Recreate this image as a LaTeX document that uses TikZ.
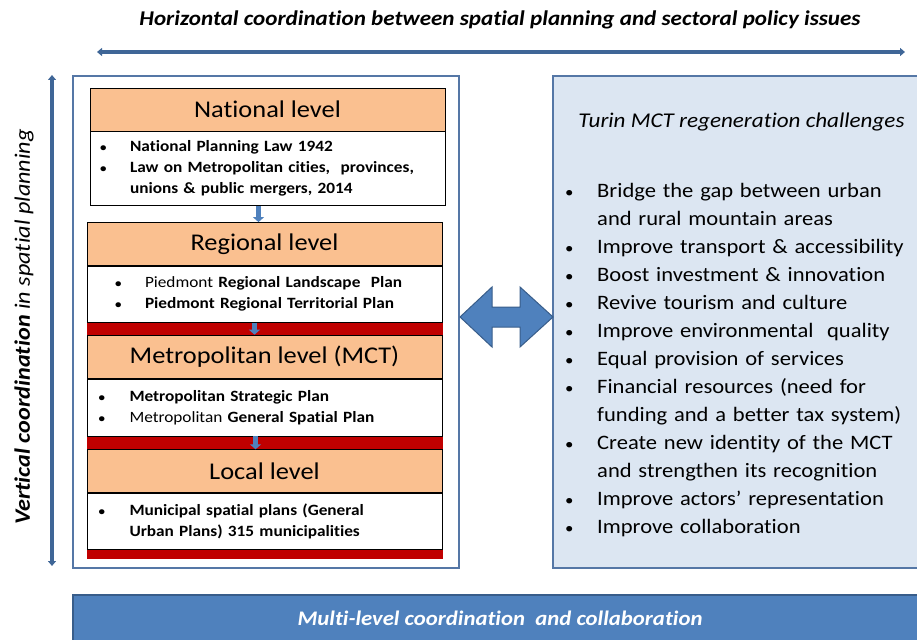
\documentclass[tikz,border=0pt]{standalone}
\usepackage{fontspec}
\setmainfont{Carlito}[FakeStretch=1.1,Ligatures=NoCommon]
\usetikzlibrary{positioning,arrows.meta,calc}

\definecolor{peach}{HTML}{FAC090}
\definecolor{bandred}{HTML}{C00000}
\definecolor{arrowblue}{HTML}{4F81BD}
\definecolor{arrowedge}{HTML}{385D8A}
\definecolor{lineblue}{HTML}{3F6697}
\definecolor{frameblue}{HTML}{5577A6}
\definecolor{panelfill}{HTML}{DCE6F2}

\newcommand{\itm}[1][30pt]{\makebox[#1][l]{\scalebox{0.75}{\textbullet}}}

\begin{document}
\begin{tikzpicture}[x=1pt,y=-1pt,
  levelhead/.style={draw=black,line width=0.8pt,fill=peach,minimum width=355pt,minimum height=43pt,inner sep=0pt,font=\fontsize{24}{28}\selectfont},
  levelbody/.style={draw=black,line width=0.8pt,fill=white,minimum width=355pt,inner xsep=0pt,text width=#1,align=left,font=\fontsize{15.7}{21}\selectfont\bfseries},
  smallarrow/.style={arrowblue,line width=5pt,-{Triangle[width=11pt,length=5pt]}},
  longarrow/.style={lineblue,line width=3.5pt,{Triangle[width=8pt,length=5pt]}-{Triangle[width=8pt,length=5pt]}},
  banner/.style={font=\fontsize{21}{25}\selectfont\bfseries\itshape}]
\useasboundingbox (0,0) rectangle (917,639);

% coordination arrows
\node[banner] (htitle) at (500,20) {Horizontal coordination between spatial planning and sectoral policy issues};
\coordinate (hl) at (97,52);
\coordinate (hr) at (905,52);
\draw[longarrow] (hl) -- (hr);
\node[font=\fontsize{22}{26}\selectfont\itshape, rotate=90] (vtitle) at (24,327) {\textbf{Vertical coordination} in spatial planning};
\coordinate (vt) at (52,75);
\coordinate (vb) at (52,566);
\draw[longarrow] (vt) -- (vb);

% planning levels
\node[draw=frameblue,line width=2pt,fill=white,minimum width=386pt,minimum height=492pt,inner sep=0pt] (levels) at (266,322) {};
\fill[bandred] (87,321) rectangle (443,559);

\node[levelhead] (nathead) at (267.5,109.5) {National level};
\node[levelbody=335pt,minimum height=74pt] (natbody) [below=0pt of nathead]
  {\itm National Planning Law 1942\\
   \itm Law on Metropolitan cities,~ provinces,\\
   \hspace*{30pt}unions \& public mergers, 2014};

\node[levelhead] (reghead) at (264.5,244) {Regional level};
\node[levelbody=299pt,minimum height=56pt] (regbody) [below=0pt of reghead]
  {\itm{\mdseries Piedmont} Regional Landscape~ Plan\\
   \itm Piedmont Regional Territorial Plan};

\node[levelhead] (methead) [below=12pt of regbody] {Metropolitan level (MCT)};
\node[levelbody=332pt,minimum height=57pt] (metbody) [below=0pt of methead]
  {\itm[31pt]Metropolitan Strategic Plan\\
   \itm[31pt]{\mdseries Metropolitan} General Spatial Plan};

\node[levelhead] (lochead) [below=13pt of metbody] {Local level};
\node[levelbody=332pt,minimum height=56pt] (locbody) [below=0pt of lochead]
  {\itm[31pt]Municipal spatial plans (General\\
   \hspace*{31pt}Urban Plans) 315 municipalities};

\draw[smallarrow] ([xshift=-9pt]natbody.south) -- ([xshift=-9pt]natbody.south |- reghead.north);
\draw[smallarrow] ([xshift=-10pt]regbody.south) -- ([xshift=-10pt]regbody.south |- methead.north);
\draw[smallarrow] ([xshift=-9pt]metbody.south) -- ([xshift=-9pt]metbody.south |- lochead.north);

% challenges
\node[draw=frameblue,line width=2pt,fill=panelfill,minimum width=377pt,minimum height=492pt,inner sep=0pt] (challenges) at (741.5,322) {};
\node[font=\fontsize{21}{25}\selectfont\itshape] (chtitle) [below=34pt of challenges.north] {Turin MCT regeneration challenges};
\node[anchor=base west,inner sep=0pt,text width=350pt,align=left,font=\fontsize{20.5}{28}\selectfont] (chlist) at (565,197)
  {\itm[32pt]Bridge the gap between urban\\
   \hspace*{32pt}and rural mountain areas\\
   \itm[32pt]Improve transport \& accessibility\\
   \itm[32pt]Boost investment \& innovation\\
   \itm[32pt]Revive tourism and culture\\
   \itm[32pt]Improve environmental~ quality\\
   \itm[32pt]Equal provision of services\\
   \itm[32pt]Financial resources (need for\\
   \hspace*{32pt}funding and a better tax system)\\
   \itm[32pt]Create new identity of the MCT\\
   \hspace*{32pt}and strengthen its recognition\\
   \itm[32pt]Improve actors’ representation\\
   \itm[32pt]Improve collaboration};

% two-way link
\coordinate (link) at (506.5,317);
\draw[fill=arrowblue,draw=arrowedge,line width=1pt]
  ($(link)+(-46.5,0)$) -- ++(32,-30) -- ++(0,20) -- ++(28,0) -- ++(0,-20) -- ++(33,30)
  -- ++(-33,30) -- ++(0,-20) -- ++(-28,0) -- ++(0,20) -- cycle;

% bottom banner
\node[draw=arrowedge,line width=1.5pt,fill=arrowblue,text=white,minimum width=854pt,minimum height=46pt,inner sep=0pt,font=\fontsize{20.7}{25}\selectfont\bfseries\itshape] (multi) at (500,618) {Multi-level coordination~ and collaboration};
\end{tikzpicture}
\end{document}
